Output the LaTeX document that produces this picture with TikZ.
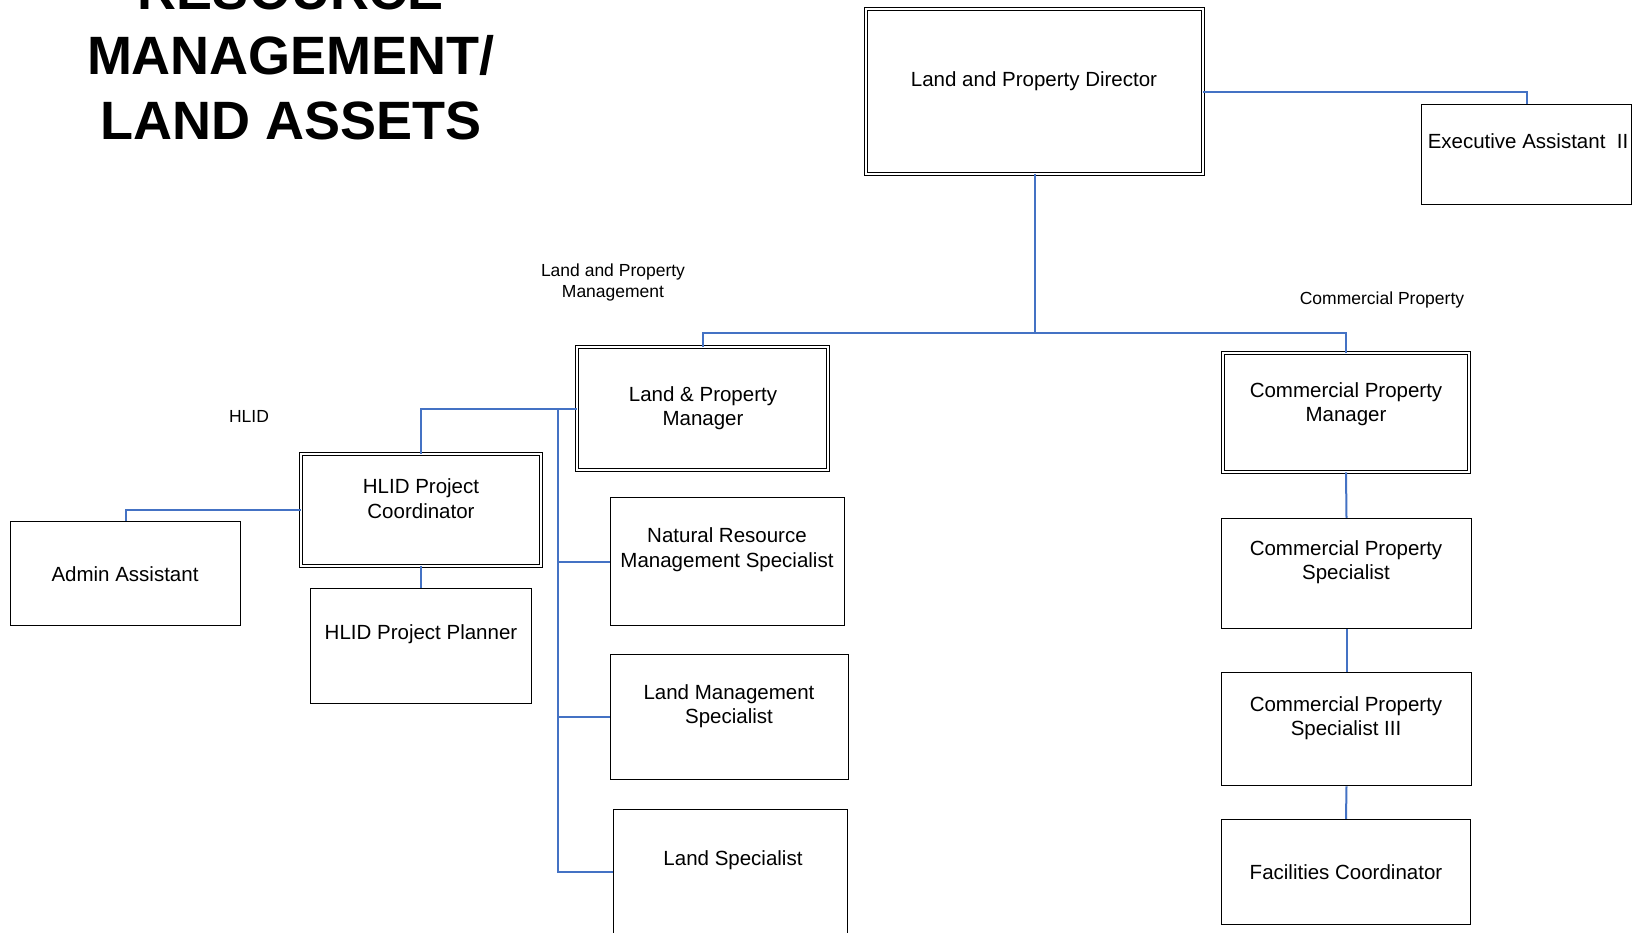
\documentclass[tikz,border=0pt]{standalone}
\usepackage{fontspec}
\setmainfont{Liberation Sans}
\definecolor{linkblue}{RGB}{68,114,196}
\begin{document}
\begin{tikzpicture}[x=1pt,y=-1pt,
  box/.style={draw=black,line width=1.5pt,inner sep=0pt,rectangle},
  dbox/.style={draw=black,double,line width=1.2pt,double distance=2pt,inner sep=0pt,rectangle},
  txt/.style={align=center,inner sep=0pt,font=\fontsize{20.5}{24.5}\selectfont},
  lbl/.style={align=center,inner sep=0pt,font=\fontsize{17.5}{21}\selectfont},
  conn/.style={draw=linkblue,line width=2pt}]
\useasboundingbox (0,0) rectangle (1633,932);
\clip (0,0) rectangle (1633,932);
\fill[white] (0,0) rectangle (1633,932);

% title
\node[align=center,inner sep=0pt,anchor=south,text depth=0pt,
  font=\fontsize{54}{65}\selectfont\bfseries] (title) at (291,140)
  {RESOURCE\\MANAGEMENT/\\LAND ASSETS};

% boxes
\node[dbox,minimum width=336.6,minimum height=164.6] (dir) at (1034.5,91.5) {};
\node[box,minimum width=210,minimum height=100] (exec) at (1526.5,154.5) {};
\node[dbox,minimum width=250.6,minimum height=122.6] (lpm) at (702.5,408.5) {};
\node[dbox,minimum width=239.6,minimum height=111.6] (hcoord) at (421,510) {};
\node[box,minimum width=221,minimum height=115] (planner) at (421,646) {};
\node[box,minimum width=230,minimum height=104] (admin) at (125.5,573.5) {};
\node[box,minimum width=234,minimum height=128] (nrms) at (727.5,561.5) {};
\node[box,minimum width=238,minimum height=125] (lms) at (729.5,717) {};
\node[box,minimum width=234,minimum height=125] (ls) at (730.5,872) {};
\node[dbox,minimum width=245.6,minimum height=118.6] (cpm) at (1346,412.5) {};
\node[box,minimum width=250,minimum height=110] (cps) at (1346.5,573.5) {};
\node[box,minimum width=250,minimum height=113] (cps3) at (1346.5,729) {};
\node[box,minimum width=249,minimum height=105] (fac) at (1346,872) {};

% box texts
\node[txt] (dir-t) at (1034,81) {Land and Property Director};
\node[txt] (exec-t) at (1528,141) {Executive Assistant\ \ II};
\node[txt] (lpm-t) at (703,408) {Land \& Property\\Manager};
\node[txt] (hcoord-t) at (421,498.5) {HLID Project\\Coordinator};
\node[txt] (planner-t) at (421,634.5) {HLID Project Planner};
\node[txt] (admin-t) at (125,574) {Admin Assistant};
\node[txt] (nrms-t) at (727,549.5) {Natural Resource\\Management Specialist};
\node[txt] (lms-t) at (729,706) {Land Management\\Specialist};
\node[txt] (ls-t) at (733,860.5) {Land Specialist};
\node[txt] (cpm-t) at (1346,404) {Commercial Property\\Manager};
\node[txt] (cps-t) at (1346,562) {Commercial Property\\Specialist};
\node[txt] (cps3-t) at (1346,718) {Commercial Property\\Specialist III};
\node[txt] (fac-t) at (1346,872.5) {Facilities Coordinator};

% group labels
\node[lbl] (l-lpm) at (613,282) {Land and Property\\Management};
\node[lbl] (l-cp) at (1382,300) {Commercial Property};
\node[lbl] (l-hlid) at (249,416) {HLID};

% connectors
\coordinate (bus) at (1034.5,333);
\coordinate (spine) at (558,408.5);
\draw[conn] (dir.east) -| (exec.north);
\draw[conn] (dir.south) -- (bus);
\draw[conn] (lpm.north) |- (bus) -| (cpm.north);
\draw[conn] (lpm.west) -| (hcoord.north);
\draw[conn] (spine) |- (nrms.west);
\draw[conn] (spine) |- (lms.west);
\draw[conn] (spine) |- (ls.west);
\draw[conn] (hcoord.south) -- (planner.north);
\draw[conn] (hcoord.west) -| (admin.north);
\draw[conn] (cpm.south) -- (cps.north);
\draw[conn] (cps.south) -- (cps3.north);
\draw[conn] (cps3.south) -- (fac.north);
\end{tikzpicture}
\end{document}
